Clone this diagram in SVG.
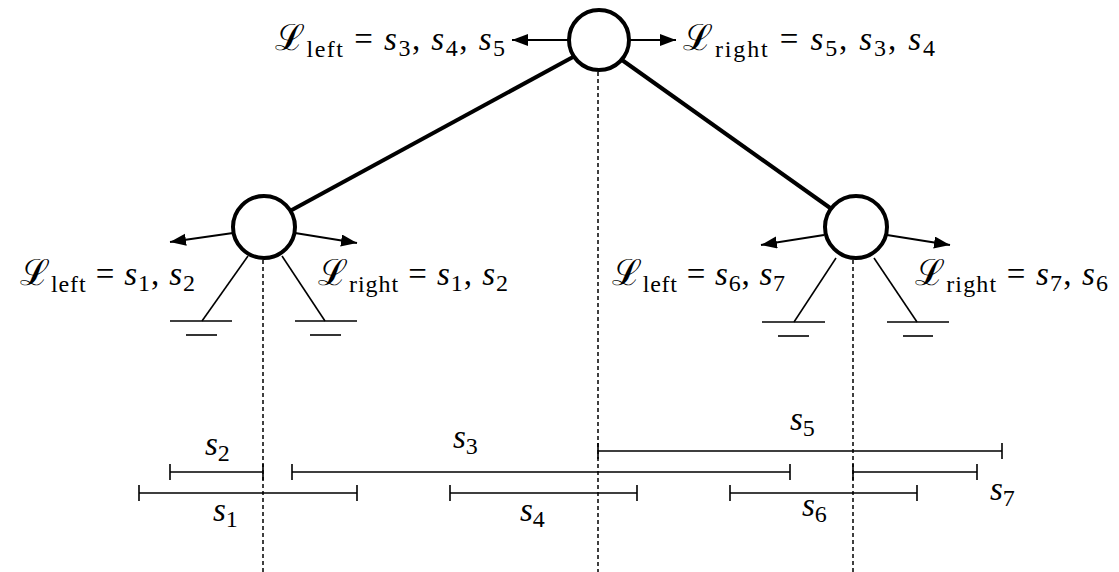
<svg xmlns="http://www.w3.org/2000/svg" width="1119" height="572" viewBox="0 0 1119 572">
<defs>
<style>
.node{fill:#fff;stroke:#000;stroke-width:4}
.edge{stroke:#000;stroke-width:4;fill:none}
.arr{stroke:#000;stroke-width:2;fill:none;marker-end:url(#ah)}
.thin{stroke:#000;stroke-width:1.6;fill:none}
.dot{stroke:#000;stroke-width:1.5;stroke-dasharray:4 3;fill:none}
.iv{stroke:#000;stroke-width:1.6;fill:none}
</style>
<marker id="ah" markerUnits="userSpaceOnUse" markerWidth="18" markerHeight="14" refX="16" refY="6" orient="auto">
<path d="M0,0 L16,6 L0,12 Z" fill="#000"/>
</marker>
</defs>
<rect width="1119" height="572" fill="#fff"/>
<g id="guides">
<line class="dot" x1="263" y1="260" x2="263" y2="572"/>
<line class="dot" x1="598" y1="72" x2="598" y2="572"/>
<line class="dot" x1="853" y1="260" x2="853" y2="572"/>
</g>
<g id="connectors">
<line class="edge" x1="573" y1="57" x2="290" y2="211"/>
<line class="edge" x1="622" y1="60" x2="833" y2="210"/>
<line class="arr" x1="568" y1="40" x2="512" y2="40"/>
<line class="arr" x1="630" y1="40" x2="676" y2="40"/>
<line class="arr" x1="233" y1="233" x2="170" y2="242"/>
<line class="arr" x1="295" y1="233" x2="357" y2="243"/>
<line class="arr" x1="824" y1="235" x2="761" y2="245"/>
<line class="arr" x1="887" y1="235" x2="950" y2="245"/>
</g>
<g id="grounds">
<line class="thin" x1="248" y1="256" x2="202" y2="321"/>
<line class="thin" x1="170" y1="321" x2="232" y2="321"/>
<line class="thin" x1="186" y1="335" x2="217" y2="335"/>
<line class="thin" x1="282" y1="256" x2="325" y2="321"/>
<line class="thin" x1="295" y1="321" x2="357" y2="321"/>
<line class="thin" x1="310" y1="335" x2="341" y2="335"/>
<line class="thin" x1="836" y1="258" x2="794" y2="322"/>
<line class="thin" x1="762" y1="322" x2="825" y2="322"/>
<line class="thin" x1="778" y1="336" x2="809" y2="336"/>
<line class="thin" x1="874" y1="258" x2="917" y2="322"/>
<line class="thin" x1="887" y1="322" x2="949" y2="322"/>
<line class="thin" x1="903" y1="336" x2="933" y2="336"/>
</g>
<g font-family="Liberation Serif, Times New Roman, serif" font-size="33" fill="#000">
<g id="node-top">
<circle class="node" cx="599" cy="40" r="30"/>
<text x="275" y="50" textLength="230" lengthAdjust="spacing"><tspan font-size="36">ℒ</tspan><tspan font-size="24" dy="7">left</tspan><tspan dy="-7"> = </tspan><tspan font-style="italic">s</tspan><tspan font-size="24" dy="6">3</tspan><tspan dy="-6">, </tspan><tspan font-style="italic">s</tspan><tspan font-size="24" dy="6">4</tspan><tspan dy="-6">, </tspan><tspan font-style="italic">s</tspan><tspan font-size="24" dy="6">5</tspan></text>
<text x="683" y="50" textLength="252" lengthAdjust="spacing"><tspan font-size="36">ℒ</tspan><tspan font-size="24" dy="7">right</tspan><tspan dy="-7"> = </tspan><tspan font-style="italic">s</tspan><tspan font-size="24" dy="6">5</tspan><tspan dy="-6">, </tspan><tspan font-style="italic">s</tspan><tspan font-size="24" dy="6">3</tspan><tspan dy="-6">, </tspan><tspan font-style="italic">s</tspan><tspan font-size="24" dy="6">4</tspan></text>
</g>
<g id="node-left">
<circle class="node" cx="264" cy="227" r="31"/>
<text x="20" y="285" textLength="175" lengthAdjust="spacing"><tspan font-size="36">ℒ</tspan><tspan font-size="24" dy="7">left</tspan><tspan dy="-7"> = </tspan><tspan font-style="italic">s</tspan><tspan font-size="24" dy="6">1</tspan><tspan dy="-6">, </tspan><tspan font-style="italic">s</tspan><tspan font-size="24" dy="6">2</tspan></text>
<text x="318" y="285" textLength="190" lengthAdjust="spacing"><tspan font-size="36">ℒ</tspan><tspan font-size="24" dy="7">right</tspan><tspan dy="-7"> = </tspan><tspan font-style="italic">s</tspan><tspan font-size="24" dy="6">1</tspan><tspan dy="-6">, </tspan><tspan font-style="italic">s</tspan><tspan font-size="24" dy="6">2</tspan></text>
</g>
<g id="node-right">
<circle class="node" cx="856" cy="227" r="31"/>
<text x="612" y="285" textLength="173" lengthAdjust="spacing"><tspan font-size="36">ℒ</tspan><tspan font-size="24" dy="7">left</tspan><tspan dy="-7"> = </tspan><tspan font-style="italic">s</tspan><tspan font-size="24" dy="6">6</tspan><tspan dy="-6">, </tspan><tspan font-style="italic">s</tspan><tspan font-size="24" dy="6">7</tspan></text>
<text x="915" y="285" textLength="193" lengthAdjust="spacing"><tspan font-size="36">ℒ</tspan><tspan font-size="24" dy="7">right</tspan><tspan dy="-7"> = </tspan><tspan font-style="italic">s</tspan><tspan font-size="24" dy="6">7</tspan><tspan dy="-6">, </tspan><tspan font-style="italic">s</tspan><tspan font-size="24" dy="6">6</tspan></text>
</g>
<g id="intervals">
<path class="iv" d="M170,472 H263 M170,464 V480 M263,464 V480"/>
<path class="iv" d="M292,472 H790 M292,464 V480 M790,464 V480"/>
<path class="iv" d="M139,493 H357 M139,485 V501 M357,485 V501"/>
<path class="iv" d="M450,493 H637 M450,485 V501 M637,485 V501"/>
<path class="iv" d="M598,451 H1002 M598,443 V459 M1002,443 V459"/>
<path class="iv" d="M730,493 H917 M730,485 V501 M917,485 V501"/>
<path class="iv" d="M853,472 H977 M853,464 V480 M977,464 V480"/>
<text x="205" y="455"><tspan font-style="italic">s</tspan><tspan font-size="24" dy="6">2</tspan></text>
<text x="453" y="448"><tspan font-style="italic">s</tspan><tspan font-size="24" dy="6">3</tspan></text>
<text x="213" y="521"><tspan font-style="italic">s</tspan><tspan font-size="24" dy="6">1</tspan></text>
<text x="520" y="521"><tspan font-style="italic">s</tspan><tspan font-size="24" dy="6">4</tspan></text>
<text x="790" y="430"><tspan font-style="italic">s</tspan><tspan font-size="24" dy="6">5</tspan></text>
<text x="802" y="516"><tspan font-style="italic">s</tspan><tspan font-size="24" dy="6">6</tspan></text>
<text x="990" y="500"><tspan font-style="italic">s</tspan><tspan font-size="24" dy="6">7</tspan></text>
</g>
</g>
</svg>
